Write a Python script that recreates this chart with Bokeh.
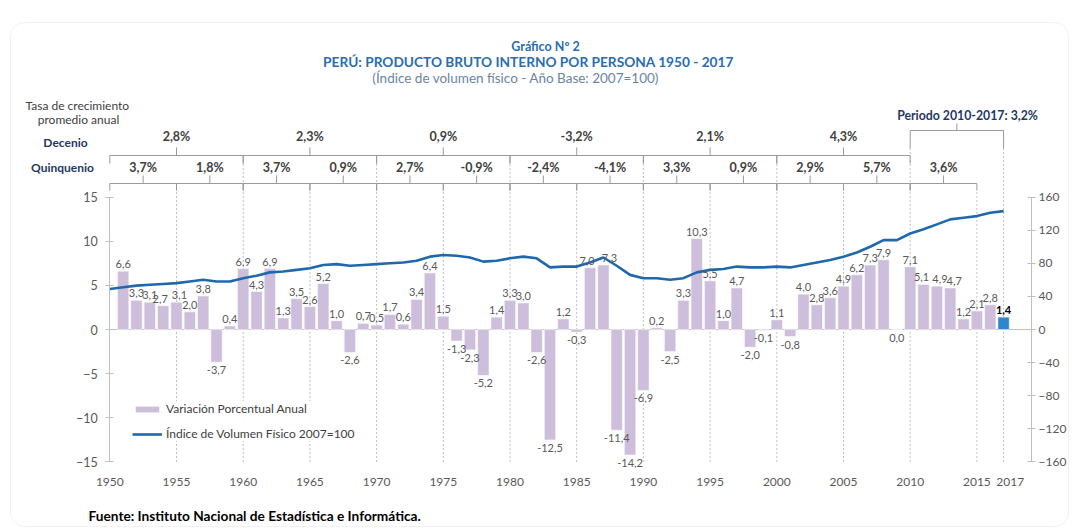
from bokeh.plotting import figure
from bokeh.models import (Range1d, LinearAxis, FixedTicker, Label, Legend, LegendItem,
                          ColumnDataSource, BoxAnnotation)
from bokeh.core.properties import value
from bokeh.embed import file_html
from bokeh.resources import INLINE

# ---------------- data ----------------
years_line = list(range(1950, 2018))
index_vals = [49, 51, 53, 54, 55, 56, 58, 60, 58, 58,
              62, 65, 69, 70, 72, 74, 78, 79, 77, 78,
              79, 80, 81, 83, 88, 90, 89, 87, 82, 83,
              86, 88, 86, 75, 76, 76, 81, 87, 77, 66,
              62, 62, 60, 62, 69, 72, 73, 76, 75, 75,
              76, 75, 78, 81, 84, 88, 93, 100, 108, 108,
              116, 121, 127, 133, 135, 137, 141, 143]

years_bar = list(range(1951, 2018))
growth = [6.6, 3.3, 3.1, 2.7, 3.1, 2.0, 3.8, -3.7, 0.4, 6.9,
          4.3, 6.9, 1.3, 3.5, 2.6, 5.2, 1.0, -2.6, 0.7, 0.5,
          1.7, 0.6, 3.4, 6.4, 1.5, -1.3, -2.3, -5.2, 1.4, 3.3,
          3.0, -2.6, -12.5, 1.2, -0.3, 7.0, 7.3, -11.4, -14.2, -6.9,
          0.2, -2.5, 3.3, 10.3, 5.5, 1.0, 4.7, -2.0, -0.1, 1.1,
          -0.8, 4.0, 2.8, 3.6, 4.9, 6.2, 7.3, 7.9, -0.0, 7.1,
          5.1, 4.9, 4.7, 1.2, 2.1, 2.8, 1.4]

decade_spans = [(1950, 1960), (1960, 1970), (1970, 1980), (1980, 1990), (1990, 2000), (2000, 2010)]
decade_labels = ["2,8%", "2,3%", "0,9%", "-3,2%", "2,1%", "4,3%"]
quin_spans = [(1950, 1955), (1955, 1960), (1960, 1965), (1965, 1970), (1970, 1975), (1975, 1980),
              (1980, 1985), (1985, 1990), (1990, 1995), (1995, 2000), (2000, 2005), (2005, 2010),
              (2010, 2015)]
quin_labels = ["3,7%", "1,8%", "3,7%", "0,9%", "2,7%", "-0,9%", "-2,4%", "-4,1%",
               "3,3%", "0,9%", "2,9%", "5,7%", "3,6%"]
period_span = (2010, 2017)
period_label = "Periodo 2010-2017: 3,2%"

left_ticks = [-15, -10, -5, 0, 5, 10, 15]
right_ticks = [-160, -120, -80, -40, 0, 40, 80, 120, 160]
grid_years = [1955, 1960, 1965, 1970, 1975, 1980, 1985, 1990, 1995, 2000, 2005, 2010, 2015, 2017]
x_ticks = [1950, 1955, 1960, 1965, 1970, 1975, 1980, 1985, 1990, 1995, 2000, 2005, 2010, 2015, 2017.5]
x_tick_labels = {2017.5: "2017"}

# ---------------- layout helpers (reference pixel -> data) ----------------
W, H = 1077, 531
PXX = 13.34          # px per year
PXY = 8.83           # px per unit (left axis)
X_AT_1950 = 109.3
Y_AT_0 = 329.0
X0 = 1950 - X_AT_1950 / PXX
X1 = X0 + W / PXX
Y1 = Y_AT_0 / PXY
Y0 = Y1 - H / PXY

def sx(px):
    return X0 + px / PXX

def sy(py):
    return Y1 - py / PXY

FONT = "Lato"
GRAY = "#595959"
LAV = "#CDBFDC"
BLUE_BAR = "#2E86CF"
LINE_C = "#2068AD"
NAVY = "#1F3864"
TITLE_C = "#2A6DB0"
AX_C = "#BFBFBF"

p = figure(width=W, height=H, x_range=Range1d(X0, X1), y_range=Range1d(Y0, Y1),
           output_backend="svg", toolbar_location=None,
           min_border_left=0, min_border_right=0, min_border_top=0, min_border_bottom=0,
           y_axis_location="left", x_axis_location="below")
p.outline_line_color = None
p.xgrid.visible = False
p.ygrid.visible = False
p.background_fill_color = "white"
p.border_fill_color = "white"

# left axis
ya = p.yaxis[0]
ya.fixed_location = 1950
ya.ticker = FixedTicker(ticks=left_ticks)
ya.bounds = (-15, 15)
ya.axis_line_color = AX_C
ya.major_tick_line_color = AX_C
ya.major_tick_in = 4
ya.major_tick_out = 4
ya.minor_tick_line_color = None
ya.major_label_standoff = 8
ya.major_label_text_font = FONT
ya.major_label_text_font_size = "12.5px"
ya.major_label_text_color = GRAY

# right axis
p.extra_y_ranges = {"idx": Range1d(Y0 * 160 / 15, Y1 * 160 / 15)}
ra = LinearAxis(y_range_name="idx", ticker=FixedTicker(ticks=right_ticks), bounds=(-160, 160),
                fixed_location=sx(1031))
ra.axis_line_color = AX_C
ra.major_tick_line_color = AX_C
ra.major_tick_in = 4
ra.major_tick_out = 4
ra.minor_tick_line_color = None
ra.major_label_standoff = 3
ra.major_label_text_font = FONT
ra.major_label_text_font_size = "12px"
ra.major_label_text_color = GRAY
p.add_layout(ra, "right")

# x axis
xa = p.xaxis[0]
xa.fixed_location = -15
xa.ticker = FixedTicker(ticks=x_ticks)
xa.major_label_overrides = x_tick_labels
xa.axis_line_color = None
xa.major_tick_line_color = None
xa.minor_tick_line_color = None
xa.major_label_standoff = 10
xa.major_label_text_font = FONT
xa.major_label_text_font_size = "12px"
xa.major_label_text_color = GRAY

# rounded frame
p.add_layout(BoxAnnotation(left=sx(10), right=sx(1068), top=sy(22), bottom=sy(526),
                           fill_alpha=0, line_color="#D5D5D5", line_width=1, border_radius=14))

# zero line
p.segment(x0=[1950], y0=[0], x1=[sx(1031)], y1=[0], line_color=AX_C, line_width=1)

# dashed verticals
Q_LINE, Q_DOWN, Q_UP = sy(183), sy(190), sy(175)
D_LINE, D_DOWN, D_UP = sy(155), sy(163), sy(147)
P_LINE, P_DOWN, P_UP = sy(130), sy(148), sy(123)
decade_bounds = set(b for s in decade_spans for b in s)
g_top = []
for yr in grid_years:
    if yr in period_span:
        g_top.append(P_DOWN)
    elif yr in decade_bounds:
        g_top.append(D_DOWN)
    else:
        g_top.append(Q_DOWN)
p.segment(x0=grid_years, y0=[-15] * len(grid_years), x1=grid_years, y1=g_top,
          line_color=AX_C, line_dash="2 2", line_width=1)

# bars
bars = p.vbar(x=years_bar[:-1], top=growth[:-1], width=0.85, fill_color=LAV,
              line_color="white", line_width=0.5)
p.vbar(x=years_bar[-1:], top=growth[-1:], width=0.85, fill_color=BLUE_BAR,
       line_color="white", line_width=0.5)

# line
line_r = p.line(x=years_line, y=index_vals, y_range_name="idx", line_color=LINE_C, line_width=2.6)

# bar labels (small horizontal nudges where the original separates crowded labels)
nudge = {1954: -3, 1955: 3, 1986: -3, 1987: 6, 2011: -2, 2012: 3, 2013: 4}
lab = [f"{v:.1f}".replace(".", ",").replace("-0,0", "0,0") for v in growth]
last = len(growth) - 1
pos = [i for i, v in enumerate(growth) if v > 0 and i != last]
neg = [i for i, v in enumerate(growth) if v <= 0]
src_pos = ColumnDataSource(dict(x=[years_bar[i] for i in pos], y=[growth[i] for i in pos],
                                t=[lab[i] for i in pos],
                                dx=[nudge.get(years_bar[i], 0) for i in pos]))
src_neg = ColumnDataSource(dict(x=[years_bar[i] for i in neg], y=[growth[i] for i in neg],
                                t=[lab[i] for i in neg]))
p.text(x="x", y="y", text="t", source=src_pos, text_align="center", text_baseline="bottom",
       x_offset="dx", y_offset=-3, text_font=value(FONT), text_font_size="11px", text_color=GRAY)
p.text(x="x", y="y", text="t", source=src_neg, text_align="center", text_baseline="top",
       y_offset=4, text_font=value(FONT), text_font_size="11px", text_color=GRAY)
p.text(x=years_bar[-1:], y=growth[-1:], text=lab[-1:], text_align="center", text_baseline="bottom",
       y_offset=-3, text_font=value(FONT), text_font_size="11px", text_color="black",
       text_font_style="bold")

# brackets
def bracket(spans, yl, yd, yu):
    xs, ys = [], []
    for a, b in spans:
        xs.append([a, a, b, b]); ys.append([yd, yl, yl, yd])
        m = (a + b) / 2
        xs.append([m, m]); ys.append([yl, yu])
    return xs, ys

BR = "#9A9A9A"
for spans, yl, yd, yu in [(decade_spans, D_LINE, D_DOWN, D_UP),
                          (quin_spans, Q_LINE, Q_DOWN, Q_UP),
                          ([period_span], P_LINE, P_DOWN, P_UP)]:
    xs, ys = bracket(spans, yl, yd, yu)
    p.multi_line(xs=xs, ys=ys, line_color=BR, line_width=1)

PCT_C = "#404040"
p.text(x=[(a + b) / 2 for a, b in decade_spans], y=[sy(136)] * len(decade_spans), text=decade_labels,
       text_align="center", text_baseline="middle", text_font=value(FONT), text_font_size="12.5px",
       text_font_style="bold", text_color=PCT_C)
p.text(x=[(a + b) / 2 for a, b in quin_spans], y=[sy(167)] * len(quin_spans), text=quin_labels,
       text_align="center", text_baseline="middle", text_font=value(FONT), text_font_size="12.5px",
       text_font_style="bold", text_color=PCT_C)
p.text(x=[sx(967)], y=[sy(115)], text=[period_label], text_align="center", text_baseline="middle",
       text_font=value(FONT), text_font_size="12.3px", text_font_style="bold", text_color=NAVY)

# other texts
def lbl(text, px, py, size="12px", color=GRAY, style="normal", align="center"):
    p.add_layout(Label(x=sx(px), y=sy(py), text=text, text_align=align, text_baseline="middle",
                       text_font=FONT, text_font_size=size, text_color=color, text_font_style=style))

lbl("Gráfico Nº 2", 545, 46, "12.5px", TITLE_C, "bold")
lbl("PERÚ: PRODUCTO BRUTO INTERNO POR PERSONA 1950 - 2017", 528, 61, "13.7px", TITLE_C, "bold")
lbl("(Índice de volumen físico -  Año Base: 2007=100)", 517, 77, "13.5px", "#6C84A3")
lbl("Tasa de crecimiento", 25, 105, "12px", "#404040", align="left")
lbl("promedio anual", 78, 119, "12px", "#404040")
lbl("Decenio", 65, 142, "12px", NAVY, "bold")
lbl("Quinquenio", 62, 167, "12px", NAVY, "bold")
lbl("Fuente: Instituto Nacional de Estadística e Informática.", 88, 515, "13.7px", "black", "bold",
    align="left")

# legend
leg = Legend(items=[LegendItem(label="Variación Porcentual Anual", renderers=[bars]),
                    LegendItem(label="Índice de Volumen Físico 2007=100", renderers=[line_r])],
             location=(132, 531 - 441), orientation="vertical", glyph_width=30, glyph_height=8,
             label_height=15, spacing=10, padding=8, label_standoff=4,
             label_text_font=FONT, label_text_font_size="12px", label_text_color="#404040",
             background_fill_color="white", background_fill_alpha=0.9, border_line_color=None)
p.add_layout(leg)

open("out.html", "w").write(file_html(p, INLINE))
